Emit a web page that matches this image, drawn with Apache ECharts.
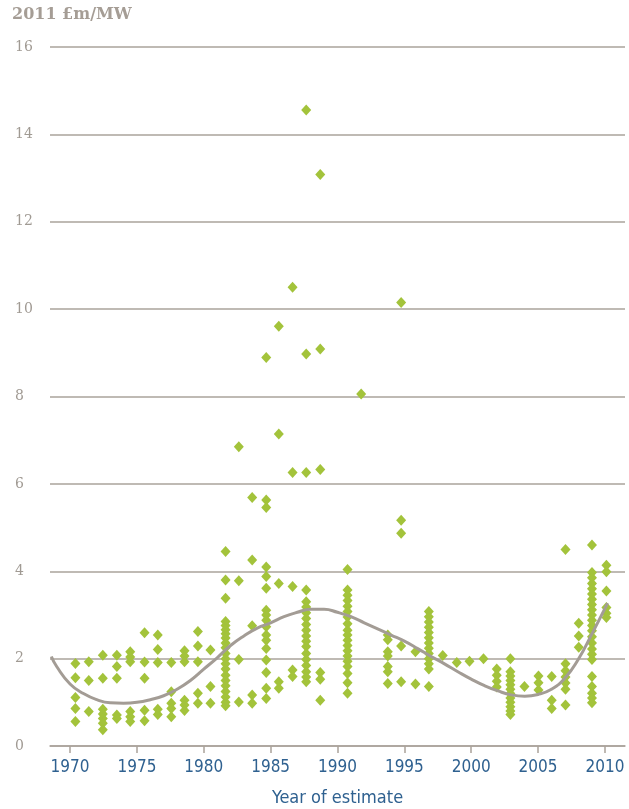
<!DOCTYPE html>
<html>
<head>
<meta charset="utf-8">
<script src="https://cdn.jsdelivr.net/npm/echarts@6/dist/echarts.min.js"></script>
<style>
  html, body { margin: 0; padding: 0; background: #ffffff; }
  #chart { width: 629px; height: 809px; }
</style>
</head>
<body>
<div id="chart"></div>
<script>
// Year of each group of estimates
const estimateYears = [
  1970.4, 1971.4, 1972.45, 1973.5, 1974.5, 1975.57, 1976.56, 1977.57, 1978.56, 1979.56,
  1980.5, 1981.63, 1982.62, 1983.62, 1984.67, 1985.61, 1986.64, 1987.66, 1988.71, 1990.75,
  1991.77, 1993.76, 1994.76, 1995.83, 1996.83, 1997.87, 1998.92, 1999.87, 2000.92, 2001.91,
  2002.93, 2003.98, 2005.03, 2006.02, 2007.05, 2008.04, 2009.03, 2010.11
];

// Cost estimates (2011 £m/MW) made in each of those years
const costEstimates = [
  [1.89, 1.56, 1.11, 0.86, 0.56],
  [1.93, 1.5, 0.79],
  [2.08, 1.55, 0.84, 0.73, 0.63, 0.52, 0.37],
  [2.08, 1.82, 1.55, 0.71, 0.63],
  [2.16, 2.04, 1.93, 0.79, 0.67, 0.56],
  [2.59, 1.92, 1.55, 0.82, 0.58],
  [2.54, 2.21, 1.91, 0.84, 0.72],
  [1.91, 1.24, 0.98, 0.86, 0.67],
  [2.18, 2.06, 1.93, 1.05, 0.94, 0.81],
  [2.62, 2.29, 1.93, 1.21, 0.98],
  [2.2, 1.36, 0.98],
  [4.45, 3.8, 3.38, 2.85, 2.76, 2.66, 2.57, 2.47, 2.36, 2.25, 2.12, 2.0, 1.88, 1.76, 1.62, 1.5, 1.38, 1.25, 1.12, 1.0, 0.92],
  [6.85, 3.78, 1.98, 1.01],
  [5.69, 4.26, 2.75, 1.17, 0.98],
  [8.89, 5.63, 5.46, 4.1, 3.88, 3.61, 3.11, 3.0, 2.88, 2.73, 2.54, 2.42, 2.23, 1.97, 1.68, 1.32, 1.09],
  [9.61, 7.14, 3.72, 1.47, 1.32],
  [10.5, 6.26, 3.65, 1.74, 1.59],
  [14.56, 8.97, 6.26, 3.57, 3.3, 3.18, 3.05, 2.92, 2.78, 2.65, 2.52, 2.4, 2.28, 2.12, 1.98, 1.84, 1.7, 1.58, 1.47],
  [13.08, 9.09, 6.33, 1.68, 1.53, 1.05],
  [4.04, 3.57, 3.45, 3.33, 3.2, 3.08, 2.95, 2.8, 2.65, 2.54, 2.42, 2.3, 2.18, 2.06, 1.94, 1.82, 1.66, 1.45, 1.21],
  [8.06],
  [2.54, 2.43, 2.16, 2.06, 1.82, 1.7, 1.43],
  [10.15, 5.17, 4.87, 2.29, 1.47],
  [2.16, 1.42],
  [3.08, 2.96, 2.84, 2.72, 2.6, 2.48, 2.36, 2.24, 2.12, 2.0, 1.88, 1.76, 1.36],
  [2.07],
  [1.91],
  [1.94],
  [2.0],
  [1.76, 1.62, 1.48, 1.35],
  [2.0, 1.7, 1.6, 1.5, 1.4, 1.3, 1.2, 1.1, 1.0, 0.9, 0.8, 0.72],
  [1.36],
  [1.6, 1.45, 1.28],
  [1.59, 1.05, 0.86],
  [4.5, 1.88, 1.72, 1.58, 1.44, 1.3, 0.94],
  [2.81, 2.52, 2.26],
  [4.6, 3.97, 3.85, 3.72, 3.6, 3.48, 3.36, 3.24, 3.12, 3.0, 2.88, 2.76, 2.64, 2.5, 2.36, 2.22, 2.1, 1.98, 1.59, 1.36, 1.21, 1.1, 0.99],
  [4.14, 3.99, 3.55, 3.17, 3.04, 2.94]
];

// Fitted trend through the estimates
const trendYears = [
  1968.6, 1969, 1970, 1971, 1972, 1973, 1974, 1975, 1976, 1977, 1978, 1979, 1980, 1981,
  1982, 1983, 1984, 1985, 1986, 1987, 1988, 1989, 1990, 1991, 1992, 1993, 1994, 1995,
  1996, 1997, 1998, 1999, 2000, 2001, 2002, 2003, 2004, 2005, 2006, 2007, 2008, 2009, 2010.2
];
const trendCosts = [
  2.05, 1.82, 1.42, 1.2, 1.06, 0.99, 0.98, 1.0, 1.06, 1.15, 1.3, 1.5, 1.76, 2.02,
  2.3, 2.52, 2.7, 2.82, 2.96, 3.06, 3.13, 3.13, 3.06, 2.96, 2.82, 2.68, 2.54, 2.4,
  2.23, 2.05, 1.88, 1.7, 1.53, 1.38, 1.26, 1.17, 1.14, 1.18, 1.3, 1.55, 1.98, 2.55, 3.27
];

const xTickYears = [1970, 1975, 1980, 1985, 1990, 1995, 2000, 2005, 2010];
const yUnitLabel = '2011 £m/MW';
const xAxisTitle = 'Year of estimate';

const scatterPoints = [];
estimateYears.forEach((yr, i) => {
  costEstimates[i].forEach(v => scatterPoints.push([yr, v]));
});
const trendPoints = trendYears.map((yr, i) => [yr, trendCosts[i]]);

const ruleColor = '#aaa39b';
const chart = echarts.init(document.getElementById('chart'), null, { renderer: 'canvas' });

chart.setOption({
  animation: false,
  backgroundColor: '#ffffff',
  grid: { left: 50, right: 4, top: 47, bottom: 63, containLabel: false, outerBoundsMode: 'none' },
  graphic: [{
    type: 'text',
    left: 12,
    top: 7,
    style: {
      text: yUnitLabel,
      fill: '#a59d95',
      font: 'bold 16px "DejaVu Serif", serif'
    }
  }],
  xAxis: {
    type: 'value',
    min: 1968.5,
    max: 2011.5,
    splitLine: { show: false },
    axisLine: { show: true, lineStyle: { color: ruleColor, width: 1.5 } },
    axisTick: {
      show: true,
      customValues: xTickYears,
      length: 7,
      lineStyle: { color: ruleColor, width: 1.5 }
    },
    axisLabel: {
      customValues: xTickYears,
      formatter: v => String(v),
      color: '#2f6190',
      fontFamily: '"Liberation Sans Narrow", "DejaVu Sans Condensed", sans-serif',
      fontSize: 17,
      margin: 13
    },
    name: xAxisTitle,
    nameLocation: 'middle',
    nameGap: 43,
    nameTextStyle: {
      color: '#2f6190',
      fontFamily: '"Liberation Sans Narrow", "DejaVu Sans Condensed", sans-serif',
      fontSize: 18
    }
  },
  yAxis: {
    type: 'value',
    min: 0,
    max: 16,
    interval: 2,
    axisLine: { show: false },
    axisTick: { show: false },
    splitLine: { show: true, lineStyle: { color: ruleColor, width: 1.5 } },
    axisLabel: {
      color: '#a09a93',
      fontFamily: '"DejaVu Serif", serif',
      fontSize: 14,
      align: 'left',
      margin: 35
    }
  },
  series: [
    {
      type: 'scatter',
      data: scatterPoints,
      symbol: 'diamond',
      symbolSize: [10, 11],
      itemStyle: { color: '#a3c33b', opacity: 1 },
      z: 2
    },
    {
      type: 'line',
      data: trendPoints,
      smooth: true,
      showSymbol: false,
      lineStyle: { color: '#a39c95', width: 3 },
      z: 3
    }
  ]
});
</script>
</body>
</html>
